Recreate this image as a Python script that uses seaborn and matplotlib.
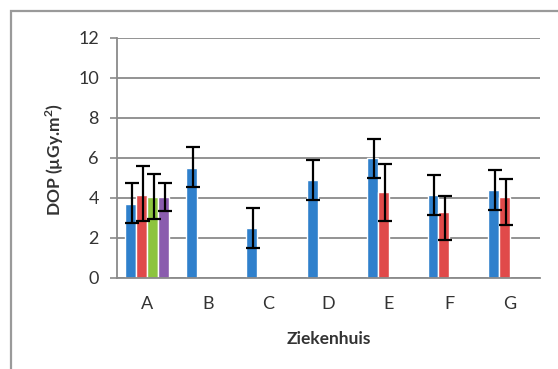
import numpy as np
import pandas as pd
import seaborn as sns
import matplotlib.pyplot as plt
from matplotlib.patches import Rectangle

# values (missing bars left out)
hospitals = ['A', 'B', 'C', 'D', 'E', 'F', 'G']
series = ['s1', 's2', 's3', 's4']
s1_vals = [3.7, 5.5, 2.5, 4.9, 6.0, 4.15, 4.4]
s1_lo = [0.95, 0.95, 1.0, 1.0, 1.0, 1.0, 1.0]
s1_hi = [1.05, 1.05, 1.0, 1.0, 0.95, 1.0, 1.0]
s2_cats = ['A', 'E', 'F', 'G']
s2_vals = [4.15, 4.3, 3.3, 4.05]
s2_lo = [1.3, 1.45, 1.4, 1.4]
s2_hi = [1.45, 1.4, 0.8, 0.9]
s3_cats = ['A']
s3_vals = [4.05]
s3_lo = [1.1]
s3_hi = [1.15]
s4_cats = ['A']
s4_vals = [4.05]
s4_lo = [0.7]
s4_hi = [0.7]

colors = ['#2f80cc', '#e04a4a', '#8dc43f', '#8a5cae']

rows = []
for s, cats, vals, lo, hi in [('s1', hospitals, s1_vals, s1_lo, s1_hi),
                              ('s2', s2_cats, s2_vals, s2_lo, s2_hi),
                              ('s3', s3_cats, s3_vals, s3_lo, s3_hi),
                              ('s4', s4_cats, s4_vals, s4_lo, s4_hi)]:
    for c, v, l, h in zip(cats, vals, lo, hi):
        rows.append({'zh': c, 'serie': s, 'dop': v, 'lo': l, 'hi': h})
df = pd.DataFrame(rows)

sns.set_style('white')
plt.rcParams['font.family'] = ['Lato', 'DejaVu Sans']

fig = plt.figure(figsize=(5.58, 3.69), dpi=100)
ax = fig.add_axes([117 / 558, 1 - 278 / 369, (540 - 117) / 558, (278 - 38) / 369])

sns.barplot(data=df, x='zh', y='dop', hue='serie', order=hospitals, hue_order=series,
            palette=colors, width=0.72, errorbar=None, saturation=1, legend=False, ax=ax)

# error bars on top of every drawn bar
for s, cont in zip(series, ax.containers):
    sub = df[df.serie == s]
    for bar in cont:
        h = bar.get_height()
        if np.isnan(h):
            continue
        xc = bar.get_x() + bar.get_width() / 2
        cat = hospitals[int(round(xc))]
        r = sub[sub.zh == cat].iloc[0]
        ax.errorbar(xc + 0.02, r.dop, yerr=[[r.lo], [r.hi]], fmt='none', ecolor='black',
                    elinewidth=1.6, capsize=5, capthick=1.6, zorder=5)

ax.set_ylim(0, 12)
ax.set_yticks(range(0, 13, 2))
ax.set_xlim(-0.5, 6.5)
ax.yaxis.grid(True, color='#8a8a8a', linewidth=1.3)
ax.set_axisbelow(True)
for side in ['top', 'right']:
    ax.spines[side].set_visible(False)
for side in ['left', 'bottom']:
    ax.spines[side].set_color('#8a8a8a')
    ax.spines[side].set_linewidth(1.3)

ax.set_xticks(np.arange(-0.5, 7, 1), minor=True)
ax.tick_params(axis='x', which='major', length=0, pad=13, labelsize=13, labelcolor='#333333')
ax.tick_params(axis='x', which='minor', length=5, width=1.2, color='#8a8a8a', direction='out')
ax.tick_params(axis='y', length=5, width=1.2, color='#8a8a8a', direction='out', pad=8,
               labelsize=13, labelcolor='#333333', left=True)

ax.set_xlabel('Ziekenhuis', fontsize=12.5, fontweight='bold', color='#333333', labelpad=14)
ax.set_ylabel('')
fig.text(55 / 558, 1 - 160 / 369, 'DOP (µGy.m$^\\mathregular{2}$)', rotation=90, ha='center',
         va='center', fontsize=12.5, fontweight='bold', color='#333333')

# outer chart frame (left and top edges visible)
fig.patches.append(Rectangle((11 / 558, -0.05), 1.2, 1 - 11 / 369 + 0.05, transform=fig.transFigure,
                             fill=False, edgecolor='#9a9a9a', linewidth=1.6))

fig.savefig('out.png', dpi=100)
